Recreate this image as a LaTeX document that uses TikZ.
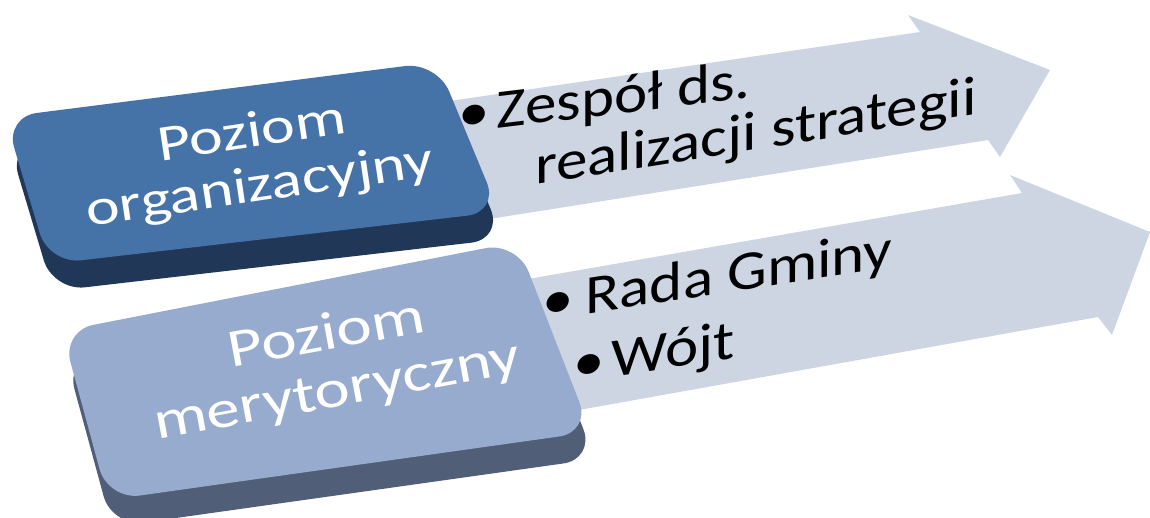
\documentclass[tikz,border=0pt]{standalone}
\usepackage{fontspec}
\setmainfont{Carlito}
\usetikzlibrary{positioning}
\definecolor{orgface}{RGB}{69,114,167}
\definecolor{orgside}{RGB}{33,55,88}
\definecolor{merface}{RGB}{150,171,206}
\definecolor{merside}{RGB}{80,94,120}
\definecolor{arrowfill}{RGB}{205,213,227}

\begin{document}
\begin{tikzpicture}[x=1pt, y=-1pt,
  levelbox/.style={rounded corners=32pt},
  boxtext/.style={text=white, font=\fontsize{64}{68}\selectfont,
    align=center, inner sep=0, yscale=0.8},
  itemtext/.style={font=\fontsize{63}{66}\selectfont, anchor=base west,
    inner sep=0, yscale=0.88},
]
  \useasboundingbox (0,0) rectangle (1150,517);

  \fill[arrowfill] (300,123) -- (920,32) -- (908,15) -- (1050,70)
    -- (1000,157) -- (988,140) -- (300,249) -- cycle;
  \fill[arrowfill] (350,310) -- (1022,193) -- (1010,175) -- (1150,232)
    -- (1112,335) -- (1098,317) -- (350,451) -- cycle;

  \fill[orgside, levelbox, shift={(4,27)}] (5,117) -- (437,62) -- (499,212)
    -- (49,264) -- cycle;
  \fill[orgface, levelbox] (5,117) -- (437,62) -- (499,212) -- (49,264) -- cycle;
  \node[rotate=8.5, boxtext] (org) at (256,161) {Poziom\\organizacyjny};

  \fill[merside, levelbox, shift={(4,27)}] (62,331) -- (517,242) -- (591,432)
    -- (108,500) -- cycle;
  \fill[merface, levelbox] (62,331) -- (517,242) -- (591,432) -- (108,500) -- cycle;
  \node[rotate=10.5, boxtext, scale=1.05] (mer) at (332,364) {Poziom\\merytoryczny};

  \node[yslant=0.12, itemtext] (zespol) at (458,133) {\textbullet\kern7pt Zespół ds.};
  \node[yslant=0.16, itemtext] (realizacja) at (535,185) {realizacji strategii};
  \node[yslant=0.155, itemtext] (rada) at (542,321) {\textbullet\kern12pt Rada Gminy};
  \node[yslant=0.155, itemtext] (wojt) at (573,383) {\textbullet\kern7pt Wójt};
\end{tikzpicture}
\end{document}
